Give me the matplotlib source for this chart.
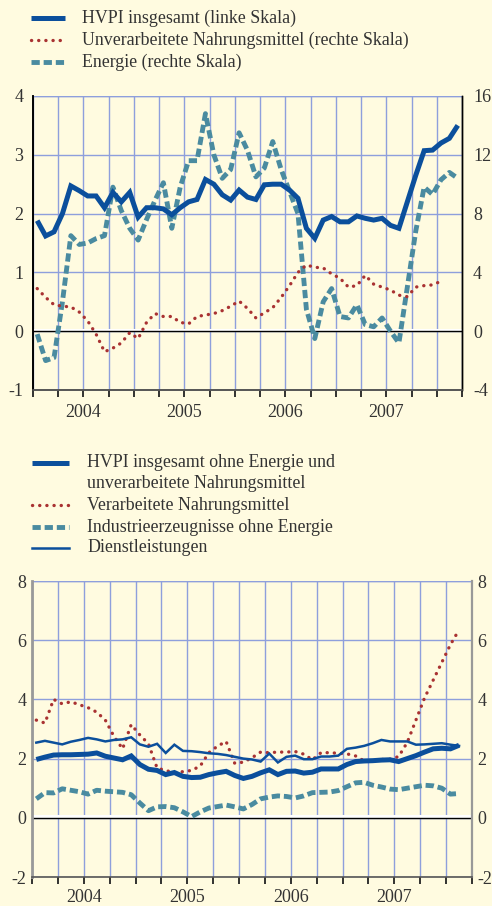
import numpy as np
import matplotlib
matplotlib.use("Agg")
import matplotlib.pyplot as plt
from matplotlib.lines import Line2D
from matplotlib.transforms import offset_copy

plt.rcParams['font.family'] = ['Liberation Serif', 'DejaVu Serif']
plt.rcParams['axes.unicode_minus'] = False

# ---- data (monthly, Jan 2004 onwards) ----
# top chart
hvpi = [1.88, 1.62, 1.69, 2.0, 2.47, 2.39, 2.3, 2.3, 2.1, 2.36, 2.2, 2.36,
        1.94, 2.1, 2.1, 2.08, 1.98, 2.1, 2.2, 2.24, 2.58, 2.5, 2.32, 2.23,
        2.4, 2.28, 2.24, 2.49, 2.5, 2.5, 2.4, 2.26, 1.75, 1.58, 1.89, 1.95,
        1.86, 1.86, 1.96, 1.92, 1.89, 1.92, 1.8, 1.75, 2.2, 2.65, 3.07, 3.08,
        3.2, 3.28, 3.5]
unverarb = [2.9, 2.3, 1.8, 1.7, 1.65, 1.3, 0.7, -0.2, -1.4, -1.15, -0.8, -0.1,
            -0.5, 0.6, 1.2, 1.0, 1.0, 0.6, 0.5, 1.0, 1.1, 1.2, 1.4, 1.7,
            2.05, 1.55, 0.9, 1.25, 1.6, 2.3, 3.1, 4.0, 4.5, 4.35, 4.3, 3.9,
            3.6, 3.0, 3.1, 3.8, 3.2, 3.0, 2.8, 2.45, 2.35, 3.0, 3.1, 3.15,
            3.4]
energie = [-0.2, -2.0, -1.8, 2.0, 6.5, 5.9, 6.0, 6.3, 6.5, 9.8, 8.2, 7.0,
           6.2, 7.6, 8.9, 10.1, 7.0, 9.8, 11.6, 11.6, 14.8, 12.0, 10.4, 11.0,
           13.5, 12.3, 10.5, 11.1, 12.9, 11.0, 9.5, 8.0, 1.5, -0.5, 2.0, 2.9,
           1.0, 0.9, 1.8, 0.45, 0.3, 0.9, 0.0, -0.8, 3.0, 6.8, 9.8, 9.3,
           10.3, 10.8, 10.4]

# bottom chart
kern = [1.97, 2.05, 2.12, 2.13, 2.13, 2.14, 2.15, 2.19, 2.08, 2.02, 1.96, 2.09,
        1.8, 1.64, 1.6, 1.46, 1.53, 1.4, 1.36, 1.37, 1.46, 1.52, 1.57, 1.43,
        1.33, 1.4, 1.52, 1.62, 1.46, 1.57, 1.58, 1.51, 1.54, 1.65, 1.65, 1.65,
        1.8, 1.9, 1.92, 1.93, 1.95, 1.96, 1.9, 2.0, 2.1, 2.22, 2.33, 2.35,
        2.33, 2.45]
verarb = [3.3, 3.2, 4.0, 3.85, 3.92, 3.82, 3.72, 3.57, 3.3, 2.75, 2.33, 3.15,
          2.8, 2.5, 1.68, 1.6, 1.52, 1.56, 1.6, 1.75, 2.2, 2.42, 2.58, 1.84,
          1.88, 2.03, 2.22, 2.2, 2.22, 2.22, 2.24, 2.15, 1.96, 2.2, 2.2, 2.18,
          2.16, 2.09, 1.92, 1.94, 1.97, 1.98, 2.07, 2.55, 3.3, 4.05, 4.65, 5.25,
          5.85, 6.35]
industrie = [0.64, 0.85, 0.84, 0.98, 0.93, 0.88, 0.8, 0.93, 0.9, 0.88, 0.86, 0.78,
             0.5, 0.24, 0.37, 0.38, 0.34, 0.2, 0.04, 0.2, 0.33, 0.38, 0.43, 0.37,
             0.3, 0.45, 0.64, 0.7, 0.74, 0.72, 0.67, 0.74, 0.85, 0.86, 0.87, 0.92,
             1.05, 1.18, 1.2, 1.1, 1.04, 0.97, 0.95, 1.0, 1.05, 1.1, 1.08, 1.0,
             0.8, 0.82]
dienst = [2.54, 2.6, 2.54, 2.48, 2.57, 2.63, 2.7, 2.65, 2.58, 2.63, 2.65, 2.72,
          2.48, 2.4, 2.5, 2.19, 2.47, 2.26, 2.25, 2.22, 2.18, 2.16, 2.12, 2.06,
          2.0, 1.97, 1.9, 2.17, 1.87, 2.06, 2.1, 1.98, 1.98, 2.07, 2.07, 2.1,
          2.33, 2.37, 2.43, 2.52, 2.63, 2.58, 2.58, 2.58, 2.47, 2.48, 2.5, 2.52,
          2.47, 2.43]

years = ['2004', '2005', '2006', '2007']

# ---- style ----
BG = '#fffbe0'
GRID = '#8e9fdc'
TXT = '#333333'
BLUE = '#0b4f9c'
RED = '#a93232'
TEAL = '#4a8ba0'

W, H = 492, 906


def fx(px):
    return px / W


def fy(py):
    return 1 - py / H


thick = dict(color=BLUE, lw=3.6, solid_capstyle='butt', solid_joinstyle='miter')
thin = dict(color=BLUE, lw=1.8, solid_joinstyle='miter')
dots = dict(color=RED, lw=2.4, linestyle=(0, (0.05, 2.1)), dash_capstyle='round')
dashes = dict(color=TEAL, lw=3.5, linestyle=(0, (1.7, 0.8)), dash_capstyle='butt')

fig = plt.figure(figsize=(W / 100, H / 100), dpi=100)
fig.patch.set_facecolor(BG)


def style_x(ax, label_off):
    ax.set_xlim(0, 51)
    ax.set_xticks(np.arange(0, 52, 3))
    ax.set_xticklabels([])
    ax.tick_params(axis='x', direction='out', length=5, width=1.3, color='#222222')
    ax.grid(True, color=GRID, lw=1.0)
    ax.set_axisbelow(True)
    # year labels in the middle of each year
    tr = offset_copy(ax.get_xaxis_transform(), fig=fig, y=-label_off, units='points')
    for i, yr in enumerate(years):
        ax.text(12 * i + 6, 0, yr, transform=tr, ha='center', va='center',
                fontsize=13, color=TXT)


def zero_line(ax):
    tr = ax.get_yaxis_transform()
    ax.plot([0, 1], [0, 0], color='white', lw=2.2, transform=offset_copy(tr, fig=fig, y=1.2, units='points'), zorder=2)
    ax.plot([0, 1], [0, 0], color='black', lw=1.0, transform=tr, zorder=2)


# ---- top chart ----
axr = fig.add_axes([fx(33), fy(390), fx(462) - fx(33), fy(96) - fy(390)])
axr.set_facecolor(BG)
ax1 = axr.twinx()
axr.yaxis.tick_right()
ax1.yaxis.tick_left()
axr.set_ylim(-4, 16)
axr.set_yticks(range(-4, 17, 4))
ax1.set_ylim(-1, 4)
ax1.set_yticks(range(-1, 5))
style_x(axr, 16.5)
ax1.tick_params(axis='x', which='both', length=0)
axr.tick_params(axis='y', length=0, pad=8, labelsize=13, labelcolor=TXT)
ax1.tick_params(axis='y', length=0, pad=7, labelsize=13, labelcolor=TXT)
for ax in (axr, ax1):
    ax.spines['top'].set_visible(False)
    ax.spines['left'].set_color('black')
    ax.spines['right'].set_color('black')
    ax.spines['left'].set_linewidth(1.2)
    ax.spines['right'].set_linewidth(1.0)
    ax.spines['bottom'].set_color('#555555')
    ax.spines['bottom'].set_linewidth(1.2)

axr.axhline(16, color=GRID, lw=1.0, zorder=0)
zero_line(axr)
xr = np.arange(len(unverarb)) + 0.5
xe = np.arange(len(energie)) + 0.5
axr.plot(xe, energie, zorder=3, **dashes)
axr.plot(xr, unverarb, zorder=3, **dots)
x1 = np.arange(len(hvpi)) + 0.5
ax1.plot(x1, hvpi, zorder=4, **thick)

# ---- bottom chart ----
ax2 = fig.add_axes([fx(32), fy(877), fx(472) - fx(32), fy(581) - fy(877)])
ax2.set_facecolor(BG)
ax2.set_ylim(-2, 8)
ax2.set_yticks(range(-2, 9, 2))
style_x(ax2, 15)
ax2.tick_params(axis='y', length=0, pad=4, labelsize=13, labelcolor=TXT,
                labelright=True)
ax2.spines['top'].set_visible(False)
ax2.spines['left'].set_color('#999999')
ax2.spines['left'].set_linewidth(2.0)
ax2.spines['right'].set_color('#999999')
ax2.spines['right'].set_linewidth(1.6)
ax2.spines['bottom'].set_color('#555555')
ax2.spines['bottom'].set_linewidth(1.2)
ax2.axhline(8, color=GRID, lw=1.0, zorder=0)
zero_line(ax2)

x2 = np.arange(len(kern)) + 0.5
ax2.plot(x2, industrie, zorder=3, **dashes)
ax2.plot(x2, verarb, zorder=3, **dots)
ax2.plot(x2, dienst, zorder=4, **thin)
ax2.plot(x2, kern, zorder=5, **thick)


# ---- legends ----
LFS = 12.9


def legend_row(y, x0, x1, xt, style, label):
    fig.add_artist(Line2D([fx(x0), fx(x1)], [fy(y), fy(y)], transform=fig.transFigure, **style))
    fig.text(fx(xt), fy(y), label, ha='left', va='center', fontsize=LFS, color=TXT)


legend_row(18, 31, 65, 82, thick, 'HVPI insgesamt (linke Skala)')
legend_row(40, 31, 65, 82, dots, 'Unverarbeitete Nahrungsmittel (rechte Skala)')
legend_row(62, 31, 65, 82, dashes, 'Energie (rechte Skala)')

legend_row(463, 32, 69, 87, thick, 'HVPI insgesamt ohne Energie und')
fig.text(fx(87), fy(484), 'unverarbeitete Nahrungsmittel', ha='left', va='center',
         fontsize=LFS, color=TXT)
legend_row(505, 32, 69, 87, dots, 'Verarbeitete Nahrungsmittel')
legend_row(527, 32, 69, 87, dashes, 'Industrieerzeugnisse ohne Energie')
legend_row(548, 32, 69, 87, thin, 'Dienstleistungen')

fig.savefig('out.png', dpi=100, facecolor=BG)
